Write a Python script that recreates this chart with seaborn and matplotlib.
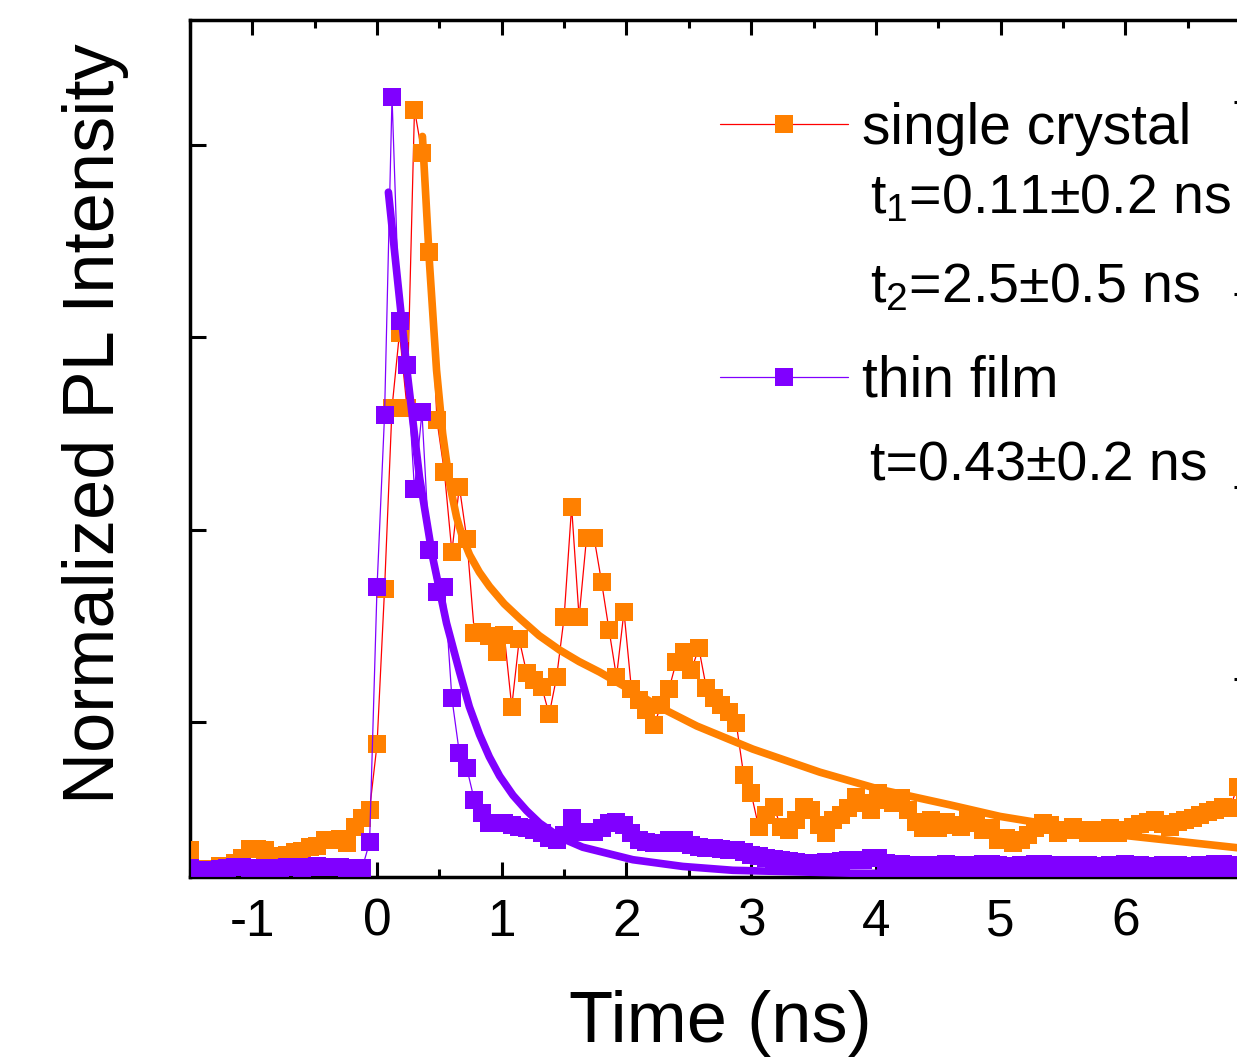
import matplotlib
matplotlib.use('Agg')
import numpy as np
import pandas as pd
import matplotlib.pyplot as plt
import seaborn as sns
from matplotlib.lines import Line2D
from matplotlib.ticker import MultipleLocator

# ---------------------------------------------------------------
# data
# ---------------------------------------------------------------
time_ns = [
    -1.50, -1.44, -1.38, -1.32, -1.26, -1.20, -1.14, -1.08, -1.02, -0.96,
    -0.90, -0.84, -0.78, -0.72, -0.66, -0.60, -0.54, -0.48, -0.42, -0.36,
    -0.30, -0.24, -0.18, -0.12, -0.06, 0.00, 0.06, 0.12, 0.18, 0.24,
    0.30, 0.36, 0.42, 0.48, 0.54, 0.60, 0.66, 0.72, 0.78, 0.84,
    0.90, 0.96, 1.02, 1.08, 1.14, 1.20, 1.26, 1.32, 1.38, 1.44,
    1.50, 1.56, 1.62, 1.68, 1.74, 1.80, 1.86, 1.92, 1.98, 2.04,
    2.10, 2.16, 2.22, 2.28, 2.34, 2.40, 2.46, 2.52, 2.58, 2.64,
    2.70, 2.76, 2.82, 2.88, 2.94, 3.00, 3.06, 3.12, 3.18, 3.24,
    3.30, 3.36, 3.42, 3.48, 3.54, 3.60, 3.66, 3.72, 3.78, 3.84,
    3.90, 3.96, 4.02, 4.08, 4.14, 4.20, 4.26, 4.32, 4.38, 4.44,
    4.50, 4.56, 4.62, 4.68, 4.74, 4.80, 4.86, 4.92, 4.98, 5.04,
    5.10, 5.16, 5.22, 5.28, 5.34, 5.40, 5.46, 5.52, 5.58, 5.64,
    5.70, 5.76, 5.82, 5.88, 5.94, 6.00, 6.06, 6.12, 6.18, 6.24,
    6.30, 6.36, 6.42, 6.48, 6.54, 6.60, 6.66, 6.72, 6.78, 6.84,
    6.90, 6.96,
]

single_crystal = [
    0.067, 0.047, 0.047, 0.047, 0.050, 0.050, 0.054, 0.059, 0.068, 0.068,
    0.067, 0.061, 0.060, 0.062, 0.065, 0.066, 0.070, 0.071, 0.078, 0.078,
    0.079, 0.074, 0.091, 0.100, 0.109, 0.177, 0.338, 0.527, 0.605, 0.527,
    0.837, 0.792, 0.689, 0.514, 0.460, 0.377, 0.445, 0.390, 0.293, 0.294,
    0.290, 0.273, 0.291, 0.216, 0.286, 0.251, 0.244, 0.237, 0.208, 0.247,
    0.309, 0.424, 0.309, 0.392, 0.392, 0.346, 0.296, 0.247, 0.315, 0.234,
    0.223, 0.213, 0.197, 0.218, 0.234, 0.263, 0.273, 0.254, 0.277, 0.236,
    0.225, 0.218, 0.211, 0.199, 0.145, 0.126, 0.091, 0.104, 0.112, 0.091,
    0.088, 0.098, 0.112, 0.109, 0.093, 0.085, 0.098, 0.104, 0.111, 0.122,
    0.116, 0.109, 0.126, 0.119, 0.116, 0.121, 0.109, 0.096, 0.090, 0.098,
    0.090, 0.096, 0.093, 0.091, 0.098, 0.095, 0.088, 0.090, 0.078, 0.080,
    0.074, 0.078, 0.083, 0.090, 0.095, 0.093, 0.085, 0.088, 0.091, 0.088,
    0.085, 0.088, 0.085, 0.090, 0.085, 0.088, 0.091, 0.094, 0.096, 0.098,
    0.094, 0.091, 0.096, 0.098, 0.100, 0.104, 0.107, 0.109, 0.112, 0.111,
    0.133, 0.119,
]

thin_film = [
    0.048, 0.046, 0.045, 0.046, 0.047, 0.048, 0.049, 0.049, 0.048, 0.048,
    0.048, 0.048, 0.048, 0.049, 0.049, 0.048, 0.049, 0.050, 0.049, 0.049,
    0.049, 0.048, 0.048, 0.048, 0.075, 0.341, 0.519, 0.850, 0.617, 0.571,
    0.442, 0.522, 0.379, 0.335, 0.341, 0.225, 0.168, 0.152, 0.119, 0.106,
    0.095, 0.095, 0.095, 0.093, 0.091, 0.090, 0.088, 0.085, 0.080, 0.078,
    0.083, 0.100, 0.086, 0.086, 0.086, 0.090, 0.095, 0.096, 0.093, 0.085,
    0.078, 0.075, 0.074, 0.074, 0.078, 0.074, 0.078, 0.072, 0.070, 0.069,
    0.069, 0.068, 0.067, 0.067, 0.065, 0.062, 0.061, 0.059, 0.058, 0.057,
    0.056, 0.055, 0.054, 0.054, 0.054, 0.055, 0.055, 0.056, 0.057, 0.057,
    0.057, 0.059, 0.059, 0.054, 0.053, 0.053, 0.052, 0.052, 0.050, 0.052,
    0.052, 0.053, 0.052, 0.050, 0.052, 0.052, 0.053, 0.053, 0.052, 0.050,
    0.050, 0.052, 0.052, 0.053, 0.053, 0.052, 0.052, 0.050, 0.052, 0.052,
    0.052, 0.050, 0.050, 0.052, 0.052, 0.053, 0.052, 0.052, 0.050, 0.050,
    0.052, 0.052, 0.052, 0.050, 0.050, 0.052, 0.052, 0.053, 0.053, 0.052,
    0.052, 0.052,
]

# fit curves
crystal_fit_t = [0.364, 0.421, 0.477, 0.526, 0.582, 0.638, 0.686, 0.742, 0.82, 0.902,
                 1.02, 1.143, 1.30, 1.464, 1.62, 1.786, 2.026, 2.291, 2.564, 3.013,
                 3.551, 4.033, 4.595, 4.996, 5.799, 7.0]
crystal_fit_v = [0.809, 0.676, 0.566, 0.500, 0.448, 0.413, 0.392, 0.374, 0.356, 0.341,
                 0.323, 0.308, 0.290, 0.275, 0.263, 0.252, 0.234, 0.214, 0.196, 0.172,
                 0.148, 0.130, 0.114, 0.102, 0.085, 0.068]
film_fit_t = [0.091, 0.164, 0.244, 0.340, 0.445, 0.557, 0.662, 0.74, 0.822, 0.90,
              0.983, 1.09, 1.199, 1.304, 1.47, 1.649, 2.051, 2.452, 2.853, 3.792,
              4.996, 7.0]
film_fit_v = [0.751, 0.660, 0.561, 0.455, 0.372, 0.303, 0.252, 0.216, 0.187, 0.164,
              0.144, 0.124, 0.108, 0.095, 0.080, 0.070, 0.057, 0.050, 0.046, 0.043,
              0.042, 0.041]

x_ticks = [-1, 0, 1, 2, 3, 4, 5, 6]
y_ticks_left = [0.2, 0.4, 0.6, 0.8]
y_ticks_right = [0.245, 0.445, 0.645, 0.845]

legend_labels = ['single crystal', 'thin film']
fit_texts = ['t$_1$=0.11\u00b10.2 ns', 't$_2$=2.5\u00b10.5 ns', 't=0.43\u00b10.2 ns']

ORANGE = '#FF8000'
PURPLE = '#8000FF'
RED = '#FF0000'

df = pd.DataFrame({'time': time_ns, 'crystal': single_crystal, 'film': thin_film})
crystal_fit = pd.DataFrame({'time': crystal_fit_t, 'fit': crystal_fit_v})
film_fit = pd.DataFrame({'time': film_fit_t, 'fit': film_fit_v})

# ---------------------------------------------------------------
# style
# ---------------------------------------------------------------
sns.set_style('ticks')
plt.rcParams['font.family'] = ['Liberation Sans', 'DejaVu Sans']
plt.rcParams['mathtext.default'] = 'regular'
plt.rcParams['axes.unicode_minus'] = False
for key in ['text.color', 'axes.labelcolor', 'xtick.color', 'ytick.color', 'axes.edgecolor']:
    plt.rcParams[key] = 'black'

fig = plt.figure(figsize=(12.37, 10.61), dpi=100)
ax = fig.add_axes([0.1536, 0.1734, 0.8569, 0.8077])

# data: thin connecting line + square markers
sns.lineplot(data=df, x='time', y='crystal', color=RED, linewidth=0.9,
             estimator=None, ax=ax, zorder=2)
sns.scatterplot(data=df, x='time', y='crystal', marker='s', s=169, color=ORANGE,
                linewidth=0, ax=ax, zorder=3)
sns.lineplot(data=df, x='time', y='film', color=PURPLE, linewidth=0.9,
             estimator=None, ax=ax, zorder=4)
sns.scatterplot(data=df, x='time', y='film', marker='s', s=169, color=PURPLE,
                linewidth=0, ax=ax, zorder=5)

# fits
sns.lineplot(data=crystal_fit, x='time', y='fit', color=ORANGE, linewidth=5.5,
             estimator=None, ax=ax, zorder=6, solid_capstyle='round')
sns.lineplot(data=film_fit, x='time', y='fit', color=PURPLE, linewidth=5.5,
             estimator=None, ax=ax, zorder=7, solid_capstyle='round')

ax.set_xlim(-1.5, 7.0)
ax.set_ylim(0.039, 0.930)
ax.set_xticks(x_ticks)
ax.xaxis.set_minor_locator(MultipleLocator(0.5))
ax.set_yticks(y_ticks_left)

ax.tick_params(axis='x', which='major', direction='in', length=10.8, width=2.2,
               top=True, bottom=True, labelsize=37, pad=15)
ax.tick_params(axis='x', which='minor', direction='in', length=5.8, width=2.2,
               top=True, bottom=True)
ax.tick_params(axis='y', which='major', direction='in', length=11.5, width=2.2,
               left=True, right=False, labelleft=False)
for sp in ax.spines.values():
    sp.set_linewidth(2.5)
    sp.set_color('black')

# right-hand ticks
ax2 = ax.twinx()
ax2.set_ylim(ax.get_ylim())
ax2.set_yticks(y_ticks_right)
ax2.tick_params(axis='y', direction='in', length=11.5, width=2.2, labelright=False)
ax2.set_ylabel('')

ax.set_xlabel('Time (ns)', fontsize=52)
ax.set_ylabel('Normalized PL Intensity', fontsize=52)
ax.xaxis.set_label_coords(0.5, -0.132)
ax.yaxis.set_label_coords(-0.058, 0.5286)

# legend
handles = [
    Line2D([], [], color=RED, lw=0.9, marker='s', markersize=13,
           markerfacecolor=ORANGE, markeredgewidth=0),
    Line2D([], [], color=PURPLE, lw=0.9, marker='s', markersize=13,
           markerfacecolor=PURPLE, markeredgewidth=0),
]
ax.legend(handles, legend_labels, loc='upper left', bbox_to_anchor=(0.5, 0.904),
          frameon=False, fontsize=41, handlelength=2.25, handletextpad=0.25,
          labelspacing=3.48, borderpad=0, borderaxespad=0)

for txt, yb in zip(fit_texts, [0.7748, 0.6709, 0.4632]):
    ax.text(0.6415, yb, txt, transform=ax.transAxes, fontsize=40,
            ha='left', va='baseline')

fig.savefig('out.png', dpi=100)
